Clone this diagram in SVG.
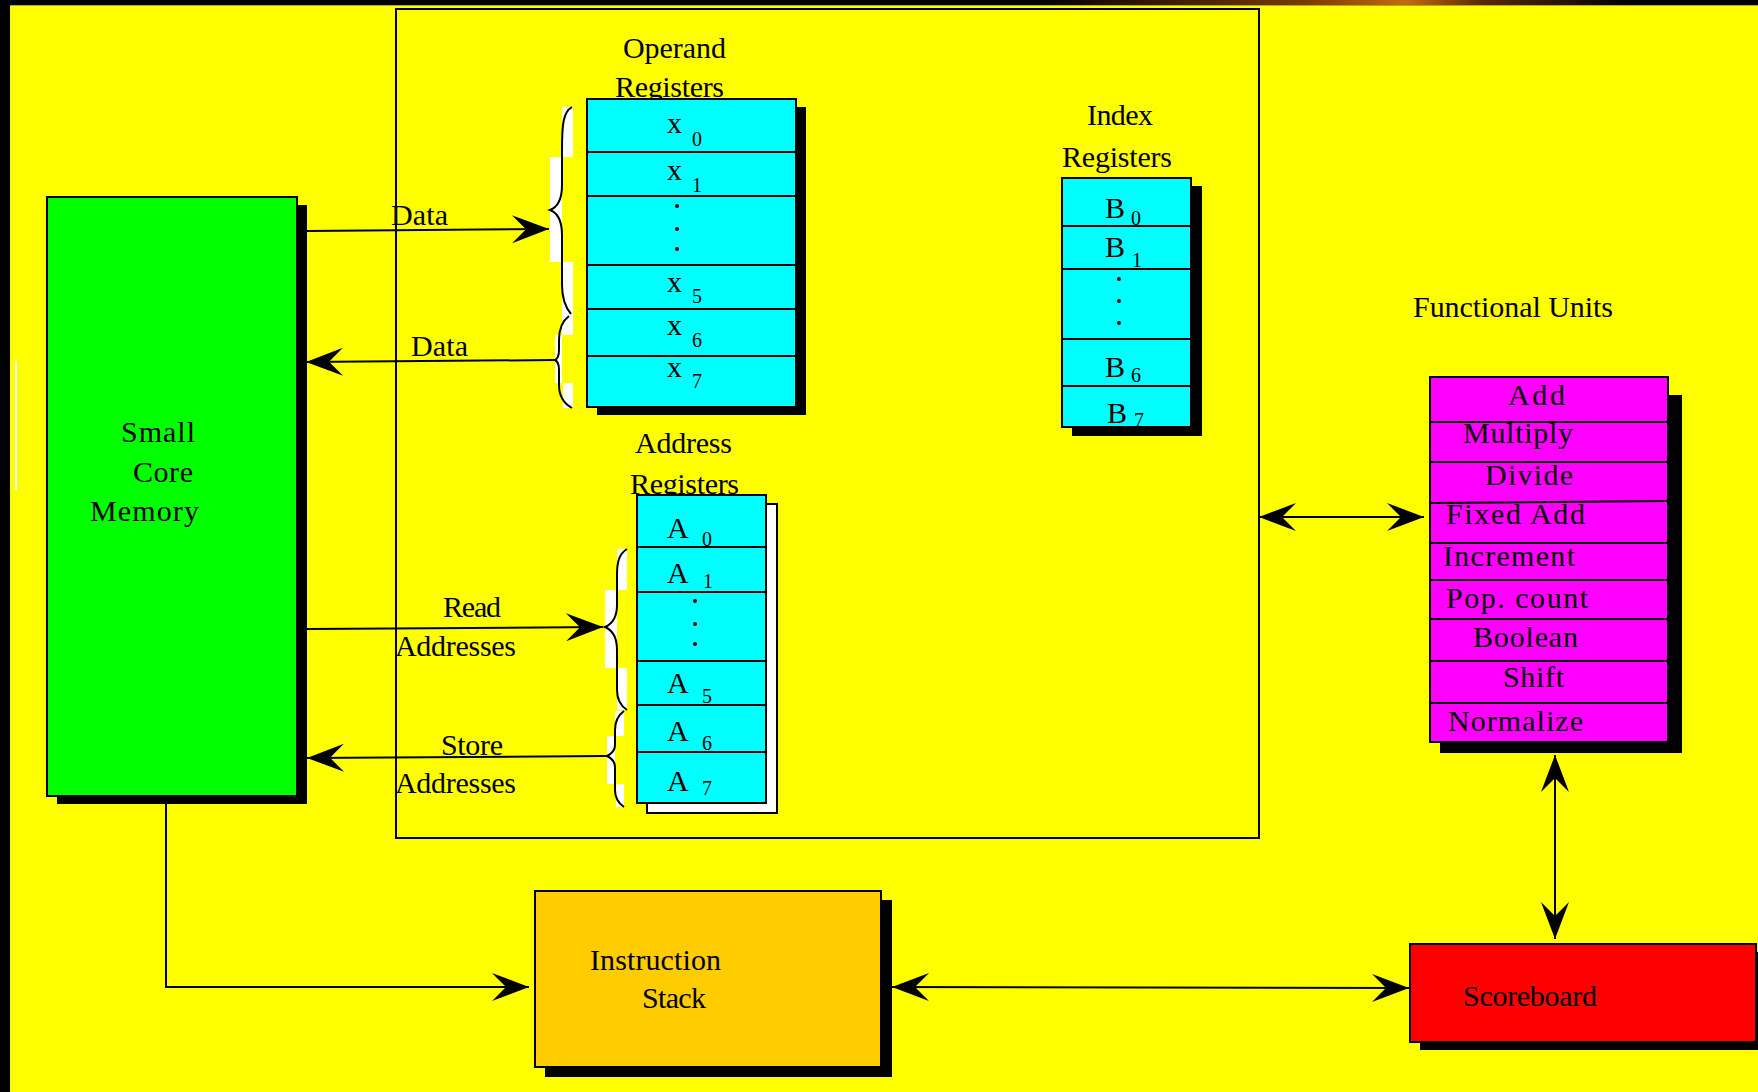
<svg xmlns="http://www.w3.org/2000/svg" width="1758" height="1092" viewBox="0 0 1758 1092">
<style>
  text { font-family: "Liberation Serif", "Times New Roman", serif; font-size: 30px; fill: #000; }
  .sub { font-size: 20px; }
  .fu { font-size: 30px; }
  .box { stroke: #000; stroke-width: 2; }
  .shadow { fill: #000; }
  .div { stroke: #000; stroke-width: 2; fill: none; }
  .conn { stroke: #000; stroke-width: 2; fill: none; }
  .brace { stroke: #000; stroke-width: 2; fill: none; }
  .wfill { fill: #fff; }
  .cyan { fill: #00ffff; }
</style>
<defs>
  <marker id="ah" viewBox="-40 -16 42 32" markerWidth="42" markerHeight="32" refX="0" refY="0" orient="auto-start-reverse" markerUnits="userSpaceOnUse">
    <path d="M0,0 L-37,-14 L-23,0 L-37,14 Z" fill="#000"/>
  </marker>
  <linearGradient id="topg" x1="0" y1="0" x2="1" y2="0">
    <stop offset="0" stop-color="#000"/>
    <stop offset="0.45" stop-color="#7a3a00"/>
    <stop offset="0.62" stop-color="#c46a10"/>
    <stop offset="0.75" stop-color="#5a2800"/>
    <stop offset="1" stop-color="#000"/>
  </linearGradient>
</defs>

<!-- background -->
<rect x="0" y="0" width="1758" height="1092" fill="#ffff00"/>
<rect x="0" y="0" width="1758" height="5" fill="#000"/>
<rect x="1040" y="0" width="590" height="5" fill="url(#topg)"/>
<line x1="0" y1="5.5" x2="1758" y2="5.5" stroke="#b0b000" stroke-width="1"/>
<rect x="0" y="0" width="10" height="1092" fill="#000"/>
<line x1="16" y1="360" x2="16" y2="490" stroke="#fff" stroke-width="2"/>

<!-- frame -->
<g id="cpu-frame">
  <rect x="396" y="9" width="863" height="829" fill="none" stroke="#000" stroke-width="2"/>
</g>

<!-- Small Core Memory -->
<g id="memory">
  <rect class="shadow" x="57" y="205" width="250" height="599"/>
  <rect class="box" x="47" y="197" width="250" height="599" fill="#00ff00"/>
  <text x="121" y="442" textLength="74">Small</text>
  <text x="133" y="482" textLength="60">Core</text>
  <text x="90" y="521" textLength="109">Memory</text>
</g>

<!-- Operand Registers -->
<g id="operand-registers">
  <text x="623" y="58" textLength="103">Operand</text>
  <text x="615" y="97" textLength="109">Registers</text>
  <rect class="shadow" x="597" y="107" width="209" height="308"/>
  <rect class="box cyan" x="587" y="99" width="209" height="308"/>
  <path class="div" d="M587,152 H796 M587,196 H796 M587,265 H796 M587,309 H796 M587,356 H796"/>
  <text x="667" y="133">x</text><text class="sub" x="692" y="146">0</text>
  <text x="667" y="180">x</text><text class="sub" x="692" y="192">1</text>
  <circle cx="677" cy="206" r="2"/><circle cx="677" cy="229" r="2"/><circle cx="677" cy="249" r="2"/>
  <text x="667" y="292">x</text><text class="sub" x="692" y="303">5</text>
  <text x="667" y="335">x</text><text class="sub" x="692" y="347">6</text>
  <text x="667" y="377">x</text><text class="sub" x="692" y="388">7</text>
</g>

<!-- Operand braces -->
<g id="operand-braces">
  <rect class="wfill" x="562" y="107" width="11" height="50"/>
  <rect class="wfill" x="550" y="157" width="12" height="105"/>
  <rect class="wfill" x="562" y="262" width="11" height="73"/>
  <rect class="wfill" x="555" y="335" width="7" height="48"/>
  <rect class="wfill" x="563" y="383" width="10" height="25"/>
  <path class="brace" d="M572,107 C563,112 562,125 562,150 L562,185 C562,200 558,207 550,210 C558,213 562,220 562,235 L562,285 C562,300 566,308 571,314"/>
  <path class="brace" d="M569,316 C561,322 559,330 559,340 L559,350 C559,356 557,359 555,360 C557,361 559,364 559,370 L559,385 C559,396 563,403 572,408"/>
</g>

<!-- Index Registers -->
<g id="index-registers">
  <text x="1087" y="125" textLength="66">Index</text>
  <text x="1062" y="167" textLength="110">Registers</text>
  <rect class="shadow" x="1072" y="186" width="130" height="250"/>
  <rect class="box cyan" x="1062" y="178" width="129" height="249"/>
  <path class="div" d="M1062,226 H1191 M1062,269 H1191 M1062,339 H1191 M1062,386 H1191"/>
  <text x="1105" y="218" font-size="28">B</text><text class="sub" x="1131" y="225">0</text>
  <text x="1105" y="257" font-size="28">B</text><text class="sub" x="1132" y="267">1</text>
  <circle cx="1119" cy="279" r="2"/><circle cx="1119" cy="301" r="2"/><circle cx="1119" cy="323" r="2"/>
  <text x="1105" y="377" font-size="28">B</text><text class="sub" x="1131" y="382">6</text>
  <text x="1107" y="423" font-size="28">B</text><text class="sub" x="1134" y="427">7</text>
</g>

<!-- Address Registers -->
<g id="address-registers">
  <text x="635" y="453" textLength="97">Address</text>
  <text x="630" y="494" textLength="109">Registers</text>
  <rect x="647" y="504" width="130" height="309" fill="#fff" stroke="#000" stroke-width="2"/>
  <rect class="box cyan" x="637" y="495" width="129" height="308"/>
  <path class="div" d="M637,547 H766 M637,592 H766 M637,661 H766 M637,705 H766 M637,752 H766"/>
  <text x="667" y="538">A</text><text class="sub" x="702" y="546">0</text>
  <text x="667" y="583">A</text><text class="sub" x="703" y="588">1</text>
  <circle cx="695" cy="601" r="2"/><circle cx="695" cy="624" r="2"/><circle cx="695" cy="644" r="2"/>
  <text x="667" y="693">A</text><text class="sub" x="702" y="703">5</text>
  <text x="667" y="741">A</text><text class="sub" x="702" y="750">6</text>
  <text x="667" y="791">A</text><text class="sub" x="702" y="795">7</text>
</g>

<!-- Address braces -->
<g id="address-braces">
  <rect class="wfill" x="617" y="549" width="10" height="41"/>
  <rect class="wfill" x="605" y="590" width="12" height="78"/>
  <rect class="wfill" x="617" y="668" width="10" height="42"/>
  <rect class="wfill" x="615" y="711" width="9" height="25"/>
  <rect class="wfill" x="607" y="736" width="8" height="48"/>
  <rect class="wfill" x="616" y="784" width="8" height="23"/>
  <path class="brace" d="M627,549 C619,554 617,562 617,575 L617,605 C617,618 612,624 605,627 C612,630 617,636 617,650 L617,690 C617,700 621,706 627,710"/>
  <path class="brace" d="M624,711 C617,716 615,722 615,730 L615,745 C615,751 611,754 607,756 C611,758 615,761 615,767 L615,790 C615,798 618,803 624,807"/>
</g>

<!-- Functional Units -->
<g id="functional-units">
  <text x="1413" y="317" textLength="200">Functional Units</text>
  <rect class="shadow" x="1440" y="395" width="242" height="358"/>
  <rect class="box" x="1430" y="377" width="238" height="365" fill="#ff00ff"/>
  <path class="div" d="M1430,422 H1668 M1430,462 H1668 M1430,503 L1668,501 M1430,543 H1668 M1430,580 H1668 M1430,619 H1668 M1430,661 H1668 M1430,703 H1668"/>
  <text class="fu" x="1508" y="405" textLength="57">Add</text>
  <text class="fu" x="1463" y="443" textLength="110">Multiply</text>
  <text class="fu" x="1485" y="485" textLength="88">Divide</text>
  <text class="fu" x="1446" y="524" textLength="139">Fixed Add</text>
  <text class="fu" x="1443" y="566" textLength="132">Increment</text>
  <text class="fu" x="1446" y="608" textLength="142">Pop. count</text>
  <text class="fu" x="1473" y="647" textLength="105">Boolean</text>
  <text class="fu" x="1503" y="687" textLength="61">Shift</text>
  <text class="fu" x="1448" y="731" textLength="135">Normalize</text>
</g>

<!-- Instruction Stack -->
<g id="instruction-stack">
  <rect class="shadow" x="545" y="900" width="347" height="177"/>
  <rect class="box" x="535" y="891" width="346" height="176" fill="#ffcc00"/>
  <text x="590" y="970" textLength="131">Instruction</text>
  <text x="642" y="1008" textLength="64">Stack</text>
</g>

<!-- Scoreboard -->
<g id="scoreboard">
  <rect class="shadow" x="1420" y="952" width="338" height="98"/>
  <rect class="box" x="1410" y="944" width="346" height="98" fill="#ff0000"/>
  <text x="1463" y="1006" textLength="134">Scoreboard</text>
</g>

<!-- connectors -->
<g id="connectors">
  <line class="conn" x1="307" y1="231" x2="549" y2="229" marker-end="url(#ah)"/>
  <text x="391" y="225" textLength="57">Data</text>
  <line class="conn" x1="555" y1="360" x2="306" y2="362" marker-end="url(#ah)"/>
  <text x="411" y="356" textLength="57">Data</text>
  <line class="conn" x1="307" y1="629" x2="603" y2="627" marker-end="url(#ah)"/>
  <text x="443" y="617" textLength="58">Read</text>
  <text x="395" y="656" textLength="121">Addresses</text>
  <line class="conn" x1="606" y1="756" x2="307" y2="758" marker-end="url(#ah)"/>
  <text x="441" y="755" textLength="62">Store</text>
  <text x="395" y="793" textLength="121">Addresses</text>
  <path class="conn" d="M166,804 V987 H529" marker-end="url(#ah)"/>
  <line class="conn" x1="1259" y1="517" x2="1424" y2="517" marker-start="url(#ah)" marker-end="url(#ah)"/>
  <line class="conn" x1="892" y1="987" x2="1409" y2="988" marker-start="url(#ah)" marker-end="url(#ah)"/>
  <line class="conn" x1="1555" y1="755" x2="1555" y2="939" marker-start="url(#ah)" marker-end="url(#ah)"/>
</g>
</svg>
